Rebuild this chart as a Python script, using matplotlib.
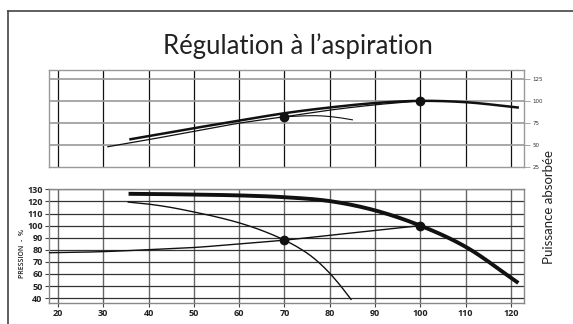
import numpy as np
import matplotlib
matplotlib.use('Agg')
import matplotlib.pyplot as plt
from matplotlib.lines import Line2D

# Puissance absorbee (top panel), % debit on x
p_full_x = [36, 40, 50, 60, 70, 80, 90, 100, 110, 121.5]
p_full_y = [56.5, 60, 69, 77.6, 86, 92.5, 97.5, 100, 98.5, 92.5]
p_reg_x = [31, 40, 50, 60, 70, 80, 90, 100]
p_reg_y = [48, 56, 65.5, 74.7, 82, 89.5, 95.5, 100]
p_branch_x = [70, 74, 78, 82, 85]
p_branch_y = [82, 83, 83, 81, 78.5]
p_pts_x = [70, 100]
p_pts_y = [82, 100]

# Pression (bottom panel)
h_full_x = [36, 40, 50, 60, 70, 80, 90, 100, 110, 121.3]
h_full_y = [126.3, 126.2, 125.7, 125, 123.5, 120.3, 112.6, 100, 82.5, 53.5]
h_red_x = [35.5, 40, 45, 50, 55, 60, 65, 70, 73, 76, 79, 82, 84.7]
h_red_y = [119.5, 117.8, 115, 111.3, 107.2, 102.3, 96, 88, 82, 74.5, 64.5, 52, 39]
h_sys_x = [18, 25, 30, 40, 50, 60, 70, 80, 90, 100]
h_sys_y = [77.6, 78, 78.5, 80.1, 81.9, 84.9, 88, 92, 96, 100]
h_pts_x = [70, 100]
h_pts_y = [88, 100]

x_ticks = [20, 30, 40, 50, 60, 70, 80, 90, 100, 110, 120]
top_yticks = [25, 50, 75, 100, 125]
bot_yticks = [40, 50, 60, 70, 80, 90, 100, 110, 120, 130]

W, H = 573, 324
fig = plt.figure(figsize=(W / 100, H / 100), dpi=100)


def box(l, t, r, b):
    return [l / W, (H - b) / H, (r - l) / W, (b - t) / H]


def smooth(xs, ys, n=200):
    xs = np.asarray(xs, float)
    ys = np.asarray(ys, float)
    t = np.linspace(xs[0], xs[-1], n)
    # simple cubic hermite through the read points
    m = np.gradient(ys, xs)
    out = np.empty_like(t)
    for k, xv in enumerate(t):
        i = min(np.searchsorted(xs, xv, side='right') - 1, len(xs) - 2)
        h = xs[i + 1] - xs[i]
        s = (xv - xs[i]) / h
        h00 = 2 * s**3 - 3 * s**2 + 1
        h10 = s**3 - 2 * s**2 + s
        h01 = -2 * s**3 + 3 * s**2
        h11 = s**3 - s**2
        out[k] = h00 * ys[i] + h10 * h * m[i] + h01 * ys[i + 1] + h11 * h * m[i + 1]
    return t, out


# frame around the whole sheet
fig.add_artist(Line2D([8 / W, 8 / W], [0, 1 - 11 / H], color='#444444', lw=1.2))
fig.add_artist(Line2D([8 / W, 1], [1 - 11 / H, 1 - 11 / H], color='#444444', lw=1.2))

fig.text(298 / W, 1 - 46 / H, 'Régulation à l\u2019aspiration', ha='center', va='center',
         fontsize=18.5, family='Lato', color='#222222')

# --- top panel ---
ax1 = fig.add_axes(box(49, 70, 524, 167))
ax1.set_xlim(18, 122.9)
ax1.set_ylim(25, 135)
for v in x_ticks:
    ax1.axvline(v, color='#111111', lw=0.9, zorder=1)
for v in top_yticks[1:]:
    ax1.axhline(v, color='#9a9a9a', lw=1.2, zorder=1)
ax1.plot(*smooth(p_full_x, p_full_y), color='#111111', lw=1.8, zorder=3)
ax1.plot(*smooth(p_reg_x, p_reg_y), color='#111111', lw=0.9, zorder=3)
ax1.plot(*smooth(p_branch_x, p_branch_y), color='#111111', lw=0.8, zorder=3)
ax1.plot(p_pts_x, p_pts_y, 'o', color='#111111', ms=6, zorder=4)
ax1.set_xticks([])
ax1.yaxis.tick_right()
ax1.set_yticks(top_yticks)
ax1.set_yticklabels([str(v) for v in top_yticks], fontsize=4, color='#333333')
ax1.tick_params(axis='y', length=4, width=0.6, color='#999999', pad=2)
for s in ax1.spines.values():
    s.set_color('#999999')
    s.set_linewidth(1.0)

# --- bottom panel ---
ax2 = fig.add_axes(box(49, 189, 524, 303))
ax2.set_xlim(18, 122.9)
ax2.set_ylim(36, 130.3)
for v in x_ticks:
    ax2.axvline(v, color='#666666', lw=1.0, zorder=1)
for v in bot_yticks:
    ax2.axhline(v, color='#333333', lw=0.9, zorder=1)
ax2.plot(*smooth(h_full_x, h_full_y), color='#111111', lw=2.8, zorder=3)
ax2.plot(*smooth(h_red_x, h_red_y), color='#111111', lw=1.0, zorder=3)
ax2.plot(*smooth(h_sys_x, h_sys_y), color='#111111', lw=1.0, zorder=3)
ax2.plot(h_pts_x, h_pts_y, 'o', color='#111111', ms=6, zorder=4)
ax2.set_xticks(x_ticks)
ax2.set_yticks(bot_yticks)
ax2.set_xticklabels([str(v) for v in x_ticks], fontsize=6.5, family='Open Sans',
                    weight='bold', color='#222222')
ax2.set_yticklabels([str(v) for v in bot_yticks], fontsize=6.5, family='Open Sans',
                    weight='bold', color='#222222')
ax2.tick_params(axis='both', length=3, width=0.8, color='#444444', pad=1.5)
for s in ax2.spines.values():
    s.set_color('#888888')
    s.set_linewidth(1.0)

fig.text(22 / W, 1 - 253 / H, 'PRESSION  -  %', rotation=90, ha='center', va='center',
         fontsize=5, family='Open Sans', weight='semibold', color='#222222')
fig.text(549 / W, 1 - 207 / H, 'Puissance absorbée', rotation=90, ha='center', va='center',
         fontsize=9.5, family='Lato', color='#222222')

fig.savefig('out.png', dpi=100)
